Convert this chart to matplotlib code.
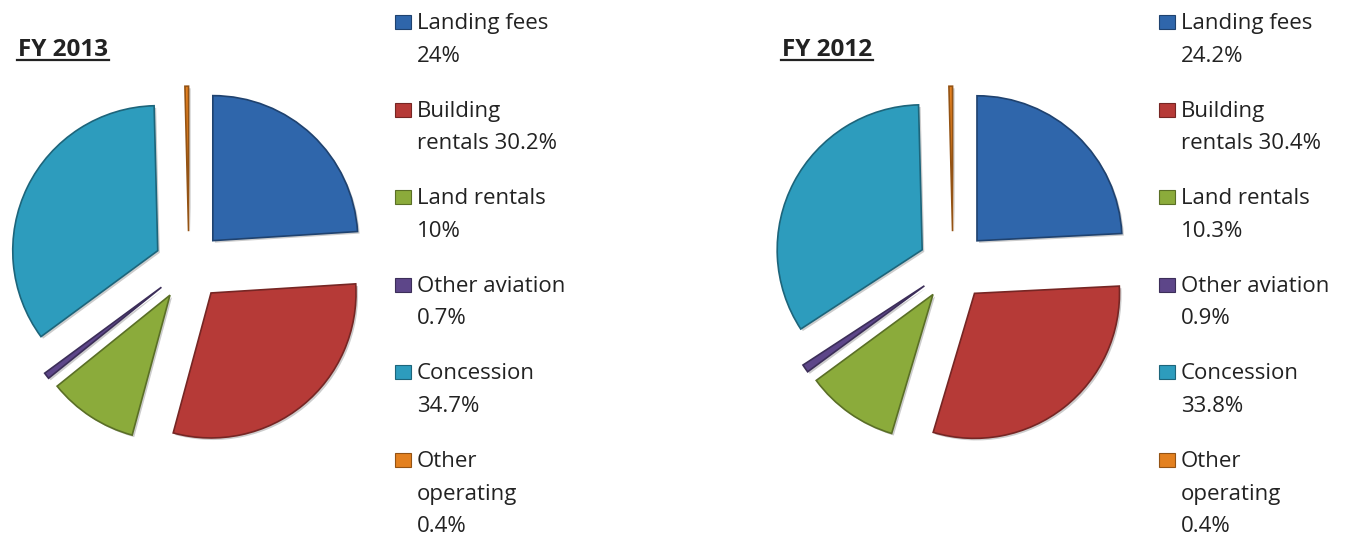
import matplotlib
matplotlib.use('Agg')
import matplotlib.pyplot as plt
import matplotlib.colors as mcolors
import matplotlib.patheffects as pe
from matplotlib.patches import Rectangle
from matplotlib.lines import Line2D

W, H = 1348, 535

# revenue mix by category, percent of operating revenue
categories = ['Landing fees', 'Building rentals', 'Land rentals',
              'Other aviation', 'Concession', 'Other operating']
key_lines = [['Landing fees', '{}%'],
             ['Building', 'rentals {}%'],
             ['Land rentals', '{}%'],
             ['Other aviation', '{}%'],
             ['Concession', '{}%'],
             ['Other', 'operating', '{}%']]
years = ['FY 2013', 'FY 2012']
share_2013 = [24, 30.2, 10, 0.7, 34.7, 0.4]
share_2012 = [24.2, 30.4, 10.3, 0.9, 33.8, 0.4]
colors = ['#2f66ab', '#b63a37', '#8bab3b', '#5d4689', '#2d9cbd', '#e3801f']

FONT = 'Open Sans'
TXT = '#222222'


def darken(c, f=0.65):
    r, g, b = mcolors.to_rgb(c)
    return (r * f, g * f, b * f)


def fx(x):
    return x / W


def fy(y):
    return 1 - y / H


def draw_panel(fig, x0, title, values):
    # pie centre and radius in pixels
    cx, cy, r, half = x0 + 189, 266, 145, 180
    ax = fig.add_axes([fx(cx - half), fy(cy + half), 2 * half / W, 2 * half / H])
    wedges, _ = ax.pie(values, colors=colors, startangle=90, counterclock=False,
                       explode=[0.24] * len(values),
                       wedgeprops=dict(linewidth=1.2))
    for w, c in zip(wedges, colors):
        w.set_edgecolor(darken(c))
        w.set_path_effects([pe.SimplePatchShadow(offset=(1.5, -1.5), shadow_rgbFace='k', alpha=0.2),
                            pe.Normal()])
    lim = half / r
    ax.set_xlim(-lim, lim)
    ax.set_ylim(-lim, lim)

    # underlined bold title
    t = fig.text(fx(x0 + 18), fy(56), title, fontsize=17.5, fontweight='bold',
                 family=FONT, color=TXT, va='baseline', ha='left')
    fig.canvas.draw()
    bb = t.get_window_extent()
    fig.add_artist(Line2D([bb.x0 / W - 0.001, bb.x1 / W + 0.001], [fy(59.5), fy(59.5)],
                          color=TXT, lw=1.6, transform=fig.transFigure))

    # key: square marker beside wrapped label
    base = 29
    for lines, v, c in zip(key_lines, values, colors):
        fig.add_artist(Rectangle((fx(x0 + 395), fy(base)), 16 / W, 14 / H,
                                 facecolor=c, edgecolor=darken(c), lw=0.8,
                                 transform=fig.transFigure))
        for i, ln in enumerate(lines):
            fig.text(fx(x0 + 417), fy(base + i * 32.7), ln.format('{:g}'.format(v)),
                     fontsize=16, family=FONT, color=TXT, va='baseline', ha='left')
        base += 87.6


fig = plt.figure(figsize=(W / 100, H / 100), dpi=100)
fig.patch.set_facecolor('white')
draw_panel(fig, 0, years[0], share_2013)
draw_panel(fig, 764, years[1], share_2012)
fig.savefig('out.png', dpi=100)
